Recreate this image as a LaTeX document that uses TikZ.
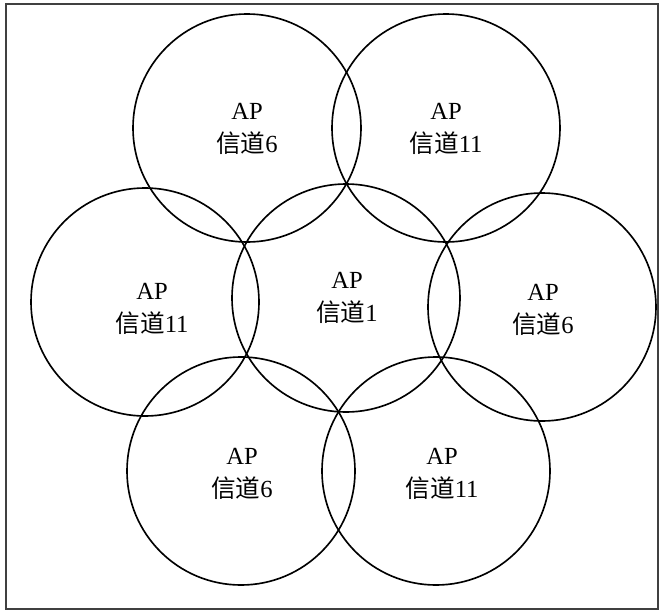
\documentclass[tikz,border=0pt]{standalone}
\usepackage{fontspec}
\setmainfont{Liberation Serif}
\newfontfamily\cjk{Noto Sans CJK SC}
\usetikzlibrary{positioning}

\begin{document}
\begin{tikzpicture}[
    x=0.03cm, y=-0.03cm,
    cell/.style={draw, circle, line width=1.4pt, minimum size=6.84cm, inner sep=0pt},
    ap/.style={align=center, font=\fontsize{21}{28}\selectfont, inner sep=0pt},
    frm/.style={draw=black!75, line width=1.6pt}
]
\useasboundingbox (0,0) rectangle (663,613);
\draw[frm] (6,4) rectangle (658,609);

% coverage cells
\node[cell] (TL) at (247,128) {};
\node[cell] (TR) at (446,128) {};
\node[cell] (ML) at (145,302) {};
\node[cell] (MC) at (346,298) {};
\node[cell] (MR) at (542,307) {};
\node[cell] (BL) at (241,471) {};
\node[cell] (BR) at (436,471) {};

% channel labels
\node[ap] (tTL) at (247,129) {AP\\{\cjk 信道}6};
\node[ap] (tTR) at (446,129) {AP\\{\cjk 信道}11};
\node[ap] (tML) at (152,309) {AP\\{\cjk 信道}11};
\node[ap] (tMC) at (347,298) {AP\\{\cjk 信道}1};
\node[ap] (tMR) at (543,310) {AP\\{\cjk 信道}6};
\node[ap] (tBL) at (242,474) {AP\\{\cjk 信道}6};
\node[ap] (tBR) at (442,474) {AP\\{\cjk 信道}11};
\end{tikzpicture}
\end{document}
